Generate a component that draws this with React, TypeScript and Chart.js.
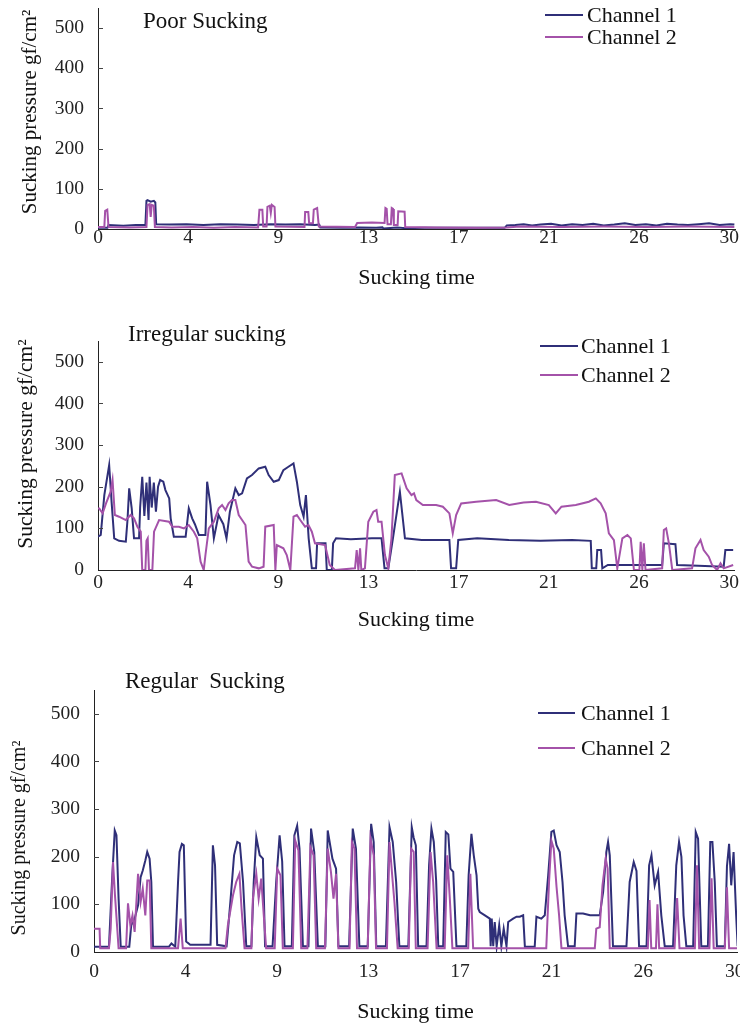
import React, { useEffect, useRef } from "react";
import { Chart, registerables } from "chart.js";

Chart.register(...registerables);

// ---------- data ----------
const xTickValues = [0, 4.28, 8.56, 12.84, 17.12, 21.4, 25.68, 29.96];
const xTickLabels = ["0", "4", "9", "13", "17", "21", "26", "30"];
const yTickValues = [0, 100, 200, 300, 400, 500];
const seriesLabels = ["Channel 1", "Channel 2"];
const panelTitles = ["Poor Sucking", "Irregular sucking", "Regular  Sucking"];
const xAxisTitle = "Sucking time";
const yAxisTitle = "Sucking pressure gf/cm\u00B2";

// Poor sucking: [time, pressure]
const poorChannel1 = [
  [0, 3], [0.45, 3], [0.5, 10], [1.2, 8], [1.8, 10], [2.25, 10], [2.3, 70], [2.35, 72], [2.5, 68], [2.65, 70],
  [2.72, 66], [2.76, 12], [3.4, 11], [4.2, 12], [5.0, 10], [5.8, 12], [6.6, 11], [7.4, 10], [8.2, 12], [8.9, 11],
  [9.6, 12], [10.3, 10], [10.5, 11], [10.55, 4], [11.6, 3], [12.4, 4], [13.2, 3], [13.5, 4], [13.55, 1], [14.2, 4],
  [14.6, 2], [15.5, 3], [16.5, 3], [17.5, 3], [18.5, 3], [19.3, 3], [19.4, 9], [19.8, 10], [20.2, 12], [20.6, 9],
  [21.0, 11], [21.5, 13], [22.0, 9], [22.5, 12], [23.0, 10], [23.5, 13], [24.0, 9], [24.5, 11], [25.0, 14], [25.5, 10],
  [26.0, 12], [26.5, 9], [27.0, 13], [27.5, 11], [28.0, 10], [28.5, 12], [29.0, 14], [29.5, 10], [30.0, 12], [30.2, 11],
];
const poorChannel2 = [
  [0, 5], [0.3, 5], [0.34, 45], [0.44, 48], [0.5, 5], [1.5, 4], [2.3, 5], [2.35, 60], [2.45, 62], [2.5, 30],
  [2.55, 60], [2.65, 58], [2.7, 5], [3.5, 4], [4.5, 5], [5.5, 3], [6.5, 5], [7.6, 4], [7.66, 48], [7.8, 48],
  [7.84, 6], [8.0, 6], [8.04, 55], [8.15, 58], [8.2, 40], [8.25, 60], [8.38, 55], [8.42, 6], [9.8, 5], [9.83, 42],
  [9.98, 42], [10.02, 14], [10.2, 14], [10.24, 48], [10.4, 52], [10.48, 6], [12.2, 5], [12.3, 15], [13.0, 16], [13.6, 15],
  [13.64, 52], [13.7, 50], [13.74, 12], [13.9, 12], [13.94, 52], [14.0, 50], [14.04, 10], [14.22, 10], [14.25, 44], [14.55, 43],
  [14.58, 5], [16, 4], [18, 3], [19.4, 4], [20, 6], [22, 5], [24, 6], [26, 5], [28, 6], [30.2, 5],
];

// Irregular sucking
const irregularChannel1 = [
  [0, 80], [0.13, 84], [0.3, 180], [0.53, 252], [0.65, 160], [0.77, 76], [1.0, 70], [1.32, 68], [1.4, 120], [1.48, 196],
  [1.6, 148], [1.71, 76], [1.95, 76], [2.0, 150], [2.1, 224], [2.2, 130], [2.3, 210], [2.4, 120], [2.45, 224], [2.55, 150],
  [2.65, 210], [2.75, 140], [2.85, 200], [2.95, 216], [3.1, 212], [3.2, 192], [3.38, 172], [3.45, 124], [3.6, 80], [4.16, 80],
  [4.31, 148], [4.47, 124], [4.6, 110], [4.79, 84], [5.1, 84], [5.18, 212], [5.34, 156], [5.5, 76], [5.72, 132], [5.95, 110],
  [6.1, 76], [6.26, 140], [6.52, 196], [6.68, 180], [6.84, 184], [7.07, 220], [7.31, 228], [7.63, 244], [7.94, 248], [8.1, 228],
  [8.34, 212], [8.58, 216], [8.8, 240], [9.04, 248], [9.28, 256], [9.44, 212], [9.6, 156], [9.76, 128], [9.87, 180], [10.0, 76],
  [10.15, 4], [10.35, 4], [10.4, 64], [10.8, 64], [10.86, 0], [11.1, 0], [11.16, 64], [11.3, 76], [12, 74], [13.0, 76],
  [13.46, 76], [13.6, 4], [13.78, 4], [14.0, 76], [14.33, 188], [14.57, 76], [15.36, 72], [16.0, 72], [16.68, 72], [16.76, 4],
  [17.0, 4], [17.1, 72], [18, 76], [19.5, 72], [21, 70], [22.5, 72], [23.39, 70], [23.44, 4], [23.65, 4], [23.7, 48],
  [23.88, 48], [23.94, 4], [24.2, 12], [25, 12], [26, 12], [26.78, 12], [26.86, 64], [27.41, 62], [27.49, 12], [28.5, 10],
  [29.7, 8], [29.78, 48], [30.15, 48],
];
const irregularChannel2 = [
  [0, 148], [0.06, 148], [0.22, 136], [0.38, 160], [0.6, 188], [0.69, 216], [0.8, 132], [1.0, 128], [1.16, 124], [1.32, 120],
  [1.55, 132], [1.71, 124], [1.87, 104], [2.03, 92], [2.1, 0], [2.25, 0], [2.3, 70], [2.36, 76], [2.42, 0], [2.58, 0],
  [2.66, 92], [2.9, 120], [3.37, 116], [3.53, 104], [3.84, 104], [4.08, 100], [4.31, 108], [4.55, 92], [4.71, 76], [4.87, 20],
  [5.02, 0], [5.1, 36], [5.26, 100], [5.5, 116], [5.73, 148], [5.89, 156], [6.05, 144], [6.2, 160], [6.36, 168], [6.52, 168],
  [6.68, 132], [6.84, 120], [7.0, 108], [7.15, 20], [7.31, 8], [7.63, 4], [7.86, 8], [7.94, 104], [8.34, 108], [8.42, 0],
  [8.49, 60], [8.8, 52], [8.96, 36], [9.13, 0], [9.28, 128], [9.44, 132], [9.6, 120], [9.83, 104], [9.99, 108], [10.15, 92],
  [10.3, 64], [10.78, 60], [11.0, 12], [11.25, 0], [12.2, 4], [12.28, 48], [12.36, 0], [12.44, 52], [12.5, 0], [12.67, 4],
  [12.83, 116], [13.07, 140], [13.22, 144], [13.3, 116], [13.46, 116], [13.62, 36], [13.78, 4], [13.93, 76], [14.09, 228], [14.41, 232],
  [14.65, 196], [14.88, 180], [15.0, 184], [15.11, 168], [15.42, 156], [16.05, 156], [16.37, 152], [16.68, 136], [16.84, 88], [17.0, 132],
  [17.24, 160], [17.95, 164], [18.9, 168], [19.52, 156], [20.2, 162], [20.79, 164], [21.4, 156], [21.73, 136], [22.0, 152], [22.68, 156],
  [23.3, 164], [23.63, 172], [23.86, 160], [24.1, 136], [24.25, 88], [24.49, 72], [24.65, 4], [24.89, 76], [25.13, 84], [25.29, 76],
  [25.44, 0], [25.7, 0], [25.76, 68], [25.84, 0], [25.91, 64], [25.99, 0], [26.78, 4], [26.86, 96], [26.97, 100], [27.1, 64],
  [27.26, 0], [28.2, 4], [28.36, 52], [28.6, 72], [28.75, 48], [28.99, 32], [29.15, 12], [29.39, 0], [29.55, 16], [29.7, 4],
  [30.15, 12],
];

// Regular sucking
const regularChannel1 = [
  [0, 11], [0.7, 11], [0.84, 147], [0.97, 255], [1.05, 245], [1.15, 112], [1.25, 11], [1.65, 11], [1.74, 56], [1.9, 70],
  [2.06, 98], [2.18, 157], [2.28, 171], [2.4, 192], [2.49, 210], [2.6, 196], [2.68, 147], [2.76, 11], [3.5, 11], [3.62, 18],
  [3.8, 11], [3.93, 147], [4.0, 210], [4.11, 227], [4.2, 224], [4.31, 22], [4.5, 15], [5.45, 15], [5.56, 224], [5.66, 182],
  [5.76, 15], [6.2, 12], [6.39, 112], [6.55, 203], [6.7, 231], [6.82, 228], [6.97, 147], [7.12, 12], [7.36, 12], [7.47, 147],
  [7.59, 241], [7.75, 203], [7.9, 196], [8.0, 12], [8.35, 12], [8.52, 147], [8.68, 245], [8.8, 190], [8.91, 12], [9.25, 12],
  [9.37, 245], [9.5, 265], [9.61, 217], [9.77, 12], [10.03, 12], [10.15, 259], [10.3, 210], [10.47, 12], [10.82, 12], [10.93, 255],
  [11.15, 196], [11.32, 175], [11.43, 12], [11.93, 12], [12.1, 259], [12.25, 217], [12.41, 12], [12.8, 12], [12.96, 269], [13.08, 231],
  [13.2, 12], [13.65, 12], [13.82, 262], [13.97, 231], [14.13, 147], [14.28, 12], [14.7, 12], [14.86, 262], [14.95, 240], [15.05, 224],
  [15.16, 12], [15.55, 12], [15.67, 182], [15.78, 259], [15.89, 231], [16.0, 150], [16.1, 12], [16.33, 12], [16.45, 252], [16.57, 247],
  [16.67, 175], [16.8, 168], [16.95, 12], [17.41, 12], [17.52, 161], [17.65, 248], [17.76, 203], [17.89, 161], [17.97, 91], [18.04, 84],
  [18.28, 77], [18.51, 70], [18.55, 12], [18.6, 70], [18.67, 12], [18.74, 63], [18.83, 12], [18.95, 56], [19.05, 12], [19.16, 49],
  [19.29, 12], [19.37, 63], [19.6, 70], [19.76, 74], [19.91, 74], [20.07, 77], [20.15, 11], [20.61, 11], [20.69, 74], [20.92, 70],
  [21.08, 77], [21.24, 161], [21.39, 252], [21.5, 255], [21.63, 224], [21.78, 210], [21.91, 147], [22.01, 77], [22.17, 12], [22.48, 12],
  [22.56, 81], [22.87, 81], [23.2, 77], [23.65, 77], [23.81, 126], [23.96, 210], [24.04, 231], [24.12, 203], [24.27, 12], [24.9, 12],
  [25.05, 147], [25.24, 189], [25.37, 170], [25.49, 12], [25.84, 12], [25.96, 182], [26.07, 203], [26.22, 140], [26.38, 168], [26.53, 77],
  [26.69, 12], [27.08, 12], [27.23, 182], [27.36, 231], [27.47, 200], [27.57, 77], [27.7, 12], [28.02, 12], [28.14, 252], [28.25, 238],
  [28.4, 12], [28.71, 12], [28.82, 231], [28.92, 231], [29.03, 147], [29.13, 12], [29.5, 12], [29.6, 180], [29.7, 227], [29.8, 140],
  [29.91, 210], [30.03, 77], [30.1, 12],
];
const regularChannel2 = [
  [0, 49], [0.26, 49], [0.29, 8], [0.7, 8], [0.78, 49], [0.89, 189], [0.98, 120], [1.15, 8], [1.5, 8], [1.59, 102],
  [1.7, 56], [1.8, 77], [1.9, 42], [2.06, 164], [2.18, 105], [2.28, 133], [2.4, 77], [2.49, 150], [2.6, 150], [2.68, 8],
  [3.93, 8], [4.05, 70], [4.15, 8], [6.15, 8], [6.26, 56], [6.5, 119], [6.65, 147], [6.8, 164], [6.9, 91], [7.04, 8],
  [7.36, 8], [7.43, 112], [7.59, 164], [7.7, 112], [7.82, 154], [7.94, 77], [8.05, 8], [8.45, 8], [8.57, 175], [8.72, 161],
  [8.83, 8], [9.3, 8], [9.41, 234], [9.56, 213], [9.69, 8], [9.98, 8], [10.12, 220], [10.27, 203], [10.39, 8], [10.8, 8],
  [10.93, 217], [11.08, 168], [11.2, 112], [11.32, 164], [11.43, 8], [11.95, 8], [12.06, 231], [12.18, 217], [12.3, 8], [12.8, 8],
  [12.93, 238], [13.08, 203], [13.19, 8], [13.7, 8], [13.82, 231], [13.97, 147], [14.05, 105], [14.2, 8], [14.72, 8], [14.83, 217],
  [14.95, 210], [15.05, 8], [15.6, 8], [15.74, 210], [15.86, 147], [16.02, 8], [16.4, 8], [16.52, 203], [16.64, 112], [16.76, 8],
  [17.5, 8], [17.6, 164], [17.73, 8], [21.15, 8], [21.28, 147], [21.39, 234], [21.5, 217], [21.63, 137], [21.75, 77], [21.86, 8],
  [23.42, 8], [23.49, 49], [23.65, 52], [23.78, 140], [23.93, 196], [24.02, 175], [24.12, 8], [25.9, 8], [25.98, 109], [26.06, 8],
  [26.28, 8], [26.35, 100], [26.43, 8], [27.15, 8], [27.27, 113], [27.38, 8], [28.1, 8], [28.2, 182], [28.3, 8], [28.78, 8],
  [28.88, 155], [28.98, 8], [29.5, 8], [29.6, 136], [29.7, 8], [30.1, 8],
];

// ---------- styles / layout ----------
const NAVY = "#2f2f78";
const PURPLE = "#a452a9";
const FONT = '"Liberation Serif", "Times New Roman", serif';

type Panel = {
  series: number[][][];
  title: string;
  top: number;
  height: number;
  areaLeft: number;
  areaRight: number;
  areaTop: number;
  areaBottom: number;
  xMax: number;
  xTickPad: number;
  xTitlePad: number;
  yTitleX: number;
  yTitleY: number;
  yTitleSize: number;
  titleX: number;
  titleY: number;
  legX1: number;
  legX2: number;
  legTX: number;
  legY: number[];
};

const panels: Panel[] = [
  {
    series: [poorChannel1, poorChannel2], title: panelTitles[0],
    top: 0, height: 300, areaLeft: 98, areaRight: 735, areaTop: 8, areaBottom: 229, xMax: 30.23,
    xTickPad: -1, xTitlePad: 9, yTitleX: 30, yTitleY: 112, yTitleSize: 21,
    titleX: 143, titleY: 22, legX1: 545, legX2: 583, legTX: 587, legY: [15, 37],
  },
  {
    series: [irregularChannel1, irregularChannel2], title: panelTitles[1],
    top: 300, height: 340, areaLeft: 98, areaRight: 734, areaTop: 41, areaBottom: 270, xMax: 30.19,
    xTickPad: 3, xTitlePad: 7, yTitleX: 26, yTitleY: 144, yTitleSize: 21.5,
    titleX: 128, titleY: 35, legX1: 540, legX2: 578, legTX: 581, legY: [46, 75],
  },
  {
    series: [regularChannel1, regularChannel2], title: panelTitles[2],
    top: 640, height: 387, areaLeft: 94, areaRight: 737, areaTop: 50, areaBottom: 312, xMax: 30.07,
    xTickPad: 10, xTitlePad: 2, yTitleX: 20, yTitleY: 198, yTitleSize: 20,
    titleX: 125, titleY: 42, legX1: 538, legX2: 575, legTX: 581, legY: [73, 108],
  },
];

function decorPlugin(p: Panel) {
  return {
    id: "decor",
    afterDraw(chart: any) {
      const ctx = chart.ctx as CanvasRenderingContext2D;
      const area = chart.chartArea;
      const ys = chart.scales.y;
      ctx.save();
      // inward tick marks on the y axis
      ctx.strokeStyle = "#444";
      ctx.lineWidth = 1;
      for (const v of yTickValues) {
        if (v === 0) continue;
        const y = Math.round(ys.getPixelForValue(v)) + 0.5;
        ctx.beginPath();
        ctx.moveTo(area.left, y);
        ctx.lineTo(area.left + 5, y);
        ctx.stroke();
      }
      // panel title
      ctx.fillStyle = "#111";
      ctx.font = `23px ${FONT}`;
      ctx.textAlign = "left";
      ctx.textBaseline = "middle";
      ctx.fillText(p.title, p.titleX, p.titleY);
      // legend
      const colors = [NAVY, PURPLE];
      ctx.font = `22px ${FONT}`;
      seriesLabels.forEach((lab, i) => {
        ctx.strokeStyle = colors[i];
        ctx.lineWidth = 2;
        ctx.beginPath();
        ctx.moveTo(p.legX1, p.legY[i]);
        ctx.lineTo(p.legX2, p.legY[i]);
        ctx.stroke();
        ctx.fillStyle = "#111";
        ctx.fillText(lab, p.legTX, p.legY[i] + 1);
      });
      // y axis title
      ctx.translate(p.yTitleX, p.yTitleY);
      ctx.rotate(-Math.PI / 2);
      ctx.textAlign = "center";
      ctx.font = `${p.yTitleSize}px ${FONT}`;
      ctx.fillStyle = "#111";
      ctx.fillText(yAxisTitle, 0, 0);
      ctx.restore();
    },
  };
}

function PanelChart({ p }: { p: Panel }) {
  const ref = useRef<HTMLCanvasElement | null>(null);
  useEffect(() => {
    if (!ref.current) return;
    const xHeight = p.height - p.areaBottom;
    const chart = new Chart(ref.current, {
      type: "line",
      data: {
        datasets: p.series.map((s, i) => ({
          label: seriesLabels[i],
          data: s.map(([x, y]) => ({ x, y })),
          borderColor: i === 0 ? NAVY : PURPLE,
          backgroundColor: i === 0 ? NAVY : PURPLE,
          borderWidth: 2,
          pointRadius: 0,
          tension: 0,
          fill: false,
          order: i === 0 ? 1 : 0,
        })),
      },
      options: {
        animation: false,
        responsive: false,
        devicePixelRatio: 1,
        parsing: false as any,
        normalized: true,
        layout: { padding: { top: p.areaTop, left: 0, right: 740 - p.areaRight, bottom: 0 } },
        plugins: { legend: { display: false }, tooltip: { enabled: false }, title: { display: false } },
        scales: {
          x: {
            type: "linear",
            min: 0,
            max: p.xMax,
            grid: { display: false, drawTicks: false },
            border: { display: true, color: "#222", width: 1 },
            afterBuildTicks: (scale: any) => {
              scale.ticks = xTickValues.map((v) => ({ value: v }));
            },
            afterFit: (scale: any) => {
              scale.height = xHeight;
              scale.paddingLeft = 0;
              scale.paddingRight = 0;
              scale.paddingTop = 0;
              scale.paddingBottom = 0;
            },
            ticks: {
              autoSkip: false,
              maxRotation: 0,
              minRotation: 0,
              padding: p.xTickPad,
              color: "#222",
              font: { family: FONT, size: 19.5, lineHeight: 1 },
              callback: (_v: any, idx: number) => xTickLabels[idx],
            },
            title: {
              display: true,
              text: xAxisTitle,
              color: "#111",
              font: { family: FONT, size: 22, lineHeight: 1.2 },
              padding: { top: 0, bottom: p.xTitlePad },
            },
          },
          y: {
            type: "linear",
            min: 0,
            max: 550,
            grid: { display: false, drawTicks: false },
            border: { display: true, color: "#222", width: 1 },
            afterBuildTicks: (scale: any) => {
              scale.ticks = yTickValues.map((v) => ({ value: v }));
            },
            afterFit: (scale: any) => {
              scale.width = p.areaLeft;
              scale.paddingLeft = 0;
              scale.paddingRight = 0;
              scale.paddingTop = 0;
              scale.paddingBottom = 0;
            },
            ticks: {
              padding: 14,
              color: "#222",
              font: { family: FONT, size: 19.5, lineHeight: 1 },
              callback: (v: any) => String(v),
            },
            title: { display: false },
          },
        },
      } as any,
      plugins: [decorPlugin(p)],
    });
    return () => chart.destroy();
  }, [p]);
  return (
    <canvas
      ref={ref}
      width={740}
      height={p.height}
      style={{ position: "absolute", left: 0, top: p.top, width: 740, height: p.height, display: "block" }}
    />
  );
}

export default function App() {
  return (
    <div
      style={{
        position: "absolute",
        left: 0,
        top: 0,
        width: 740,
        height: 1027,
        background: "#fff",
        overflow: "hidden",
      }}
    >
      {panels.map((p, i) => (
        <PanelChart key={i} p={p} />
      ))}
    </div>
  );
}
